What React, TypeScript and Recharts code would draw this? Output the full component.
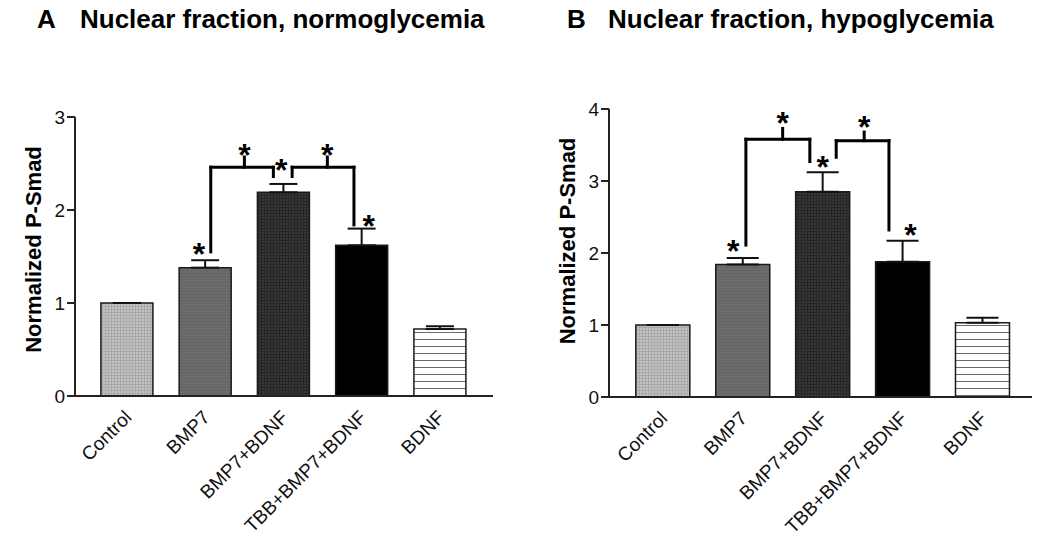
import React from "react";
import {
  BarChart,
  Bar,
  Cell,
  XAxis,
  YAxis,
  ErrorBar,
  ReferenceLine,
  ReferenceDot,
} from "recharts";

// categories
const groups = ["Control", "BMP7", "BMP7+BDNF", "TBB+BMP7+BDNF", "BDNF"];

// panel A, normoglycemia
const normoValues = [1.0, 1.38, 2.19, 1.62, 0.72];
const normoErrors = [0, 0.08, 0.09, 0.18, 0.03];
const normoTicks = [0, 1, 2, 3];

// panel B, hypoglycemia
const hypoValues = [1.0, 1.84, 2.85, 1.88, 1.03];
const hypoErrors = [0, 0.09, 0.27, 0.29, 0.07];
const hypoTicks = [0, 1, 2, 3, 4];

// significance brackets (x in group index units, y in data units)
const normoBrackets = [
  { x1: 1.07, x2: 1.87, y: 2.46, y1: 1.55, y2: 2.36, xt: 1.5, yt: 2.57 },
  { x1: 2.11, x2: 2.9, y: 2.46, y1: 2.36, y2: 1.84, xt: 2.56, yt: 2.57 },
];
const normoStars = [
  { x: 0.92, y: 1.62 },
  { x: 1.97, y: 2.52 },
  { x: 3.09, y: 1.92 },
  { x: 1.5, y: 2.68 },
  { x: 2.56, y: 2.68 },
];

const hypoBrackets = [
  { x1: 1.04, x2: 1.84, y: 3.58, y1: 2.11, y2: 3.27, xt: 1.5, yt: 3.73 },
  { x1: 2.17, x2: 2.83, y: 3.56, y1: 3.33, y2: 2.32, xt: 2.52, yt: 3.68 },
];
const hypoStars = [
  { x: 0.88, y: 2.14 },
  { x: 2.0, y: 3.31 },
  { x: 3.1, y: 2.36 },
  { x: 1.5, y: 3.92 },
  { x: 2.52, y: 3.87 },
];

const fills = ["url(#pCtrl)", "url(#pBmp)", "url(#pBoth)", "#000", "url(#pBdnf)"];
const font = "'Liberation Sans', Arial, sans-serif";

function Patterns() {
  return (
    <defs>
      <pattern id="pCtrl" width="3" height="3" patternUnits="userSpaceOnUse">
        <rect width="3" height="3" fill="#c2c2c2" />
        <path d="M0 0.5H3M0.5 0V3" stroke="#a9a9a9" strokeWidth="1" />
      </pattern>
      <pattern id="pBmp" width="3" height="3" patternUnits="userSpaceOnUse">
        <rect width="3" height="3" fill="#6c6c6c" />
        <path d="M0 0.5H3" stroke="#646464" strokeWidth="1" />
      </pattern>
      <pattern id="pBoth" width="3" height="3" patternUnits="userSpaceOnUse">
        <rect width="3" height="3" fill="#373737" />
        <path d="M0 0.5H3M0.5 0V3" stroke="#262626" strokeWidth="1" />
      </pattern>
      <pattern id="pBdnf" width="7" height="7" patternUnits="userSpaceOnUse">
        <rect width="7" height="7" fill="#fff" />
        <path d="M0 3.5H7" stroke="#6a6a6a" strokeWidth="1" />
      </pattern>
    </defs>
  );
}

const Star = (props: any) => (
  <text
    x={props.cx}
    y={props.cy}
    dy="0.6em"
    textAnchor="middle"
    fontFamily={font}
    fontWeight="bold"
    fontSize={32}
    fill="#000"
  >
    *
  </text>
);

const XTick = (p: any) => {
  const x = p.x - 4;
  const y = p.y + 1;
  return (
    <text
      x={x}
      y={y}
      transform={`rotate(-45 ${x} ${y})`}
      textAnchor="end"
      dominantBaseline="hanging"
      fontFamily={font}
      fontSize={19}
      fill="#111"
    >
      {groups[p.payload.value]}
    </text>
  );
};

function Panel(props: {
  values: number[];
  errors: number[];
  ticks: number[];
  brackets: typeof normoBrackets;
  stars: typeof normoStars;
  xDomain: [number, number];
  margin: any;
  yWidth: number;
  xHeight: number;
  labelX: number;
  labelDy: number;
  barSize: number;
  capWidth: number;
}) {
  const data = groups.map((g, i) => ({
    idx: i,
    name: g,
    value: props.values[i],
    err: [0, props.errors[i]],
  }));
  const yMax = props.ticks[props.ticks.length - 1];
  const seg = (ax: number, ay: number, bx: number, by: number, k: string) => (
    <ReferenceLine
      key={k}
      segment={[
        { x: ax, y: ay },
        { x: bx, y: by },
      ]}
      stroke="#000"
      strokeWidth={3}
      strokeLinecap="square"
    />
  );
  return (
    <BarChart width={525} height={543} data={data} margin={props.margin}>
      <Patterns />
      <XAxis
        dataKey="idx"
        type="number"
        domain={props.xDomain}
        ticks={[0, 1, 2, 3, 4]}
        interval={0}
        tickLine={false}
        tickSize={6}
        tickMargin={6}
        axisLine={{ stroke: "#222", strokeWidth: 2 }}
        height={props.xHeight}
        tick={<XTick />}
      />
      <YAxis
        domain={[0, yMax]}
        ticks={props.ticks}
        width={props.yWidth}
        tickSize={8}
        tickMargin={2}
        fontSize={19}
        axisLine={{ stroke: "#222", strokeWidth: 2 }}
        tickLine={{ stroke: "#222", strokeWidth: 2 }}
        tick={{ fill: "#111", fontSize: 19, fontFamily: font }}
        label={{
          content: (lp: any) => {
            const vb = lp.viewBox;
            const cx = props.labelX;
            const cy = vb.y + vb.height / 2 + props.labelDy;
            return (
              <text
                x={cx}
                y={cy}
                transform={`rotate(-90 ${cx} ${cy})`}
                textAnchor="middle"
                dominantBaseline="central"
                fontFamily={font}
                fontWeight="bold"
                fontSize={22}
                fill="#000"
              >
                Normalized P-Smad
              </text>
            );
          },
        }}
      />
      <Bar
        dataKey="value"
        barSize={props.barSize}
        stroke="#1a1a1a"
        strokeWidth={1.5}
        isAnimationActive={false}
      >
        {data.map((d, i) => (
          <Cell key={d.name} fill={fills[i]} />
        ))}
        <ErrorBar
          dataKey="err"
          direction="y"
          width={props.capWidth}
          stroke="#111"
          strokeWidth={2}
        />
      </Bar>
      {props.brackets.flatMap((b, i) => [
        seg(b.x1, b.y1, b.x1, b.y, `l${i}`),
        seg(b.x1, b.y, b.x2, b.y, `h${i}`),
        seg(b.x2, b.y, b.x2, b.y2, `r${i}`),
        seg(b.xt, b.y, b.xt, b.yt, `t${i}`),
      ])}
      {props.stars.map((s, i) => (
        <ReferenceDot key={`s${i}`} x={s.x} y={s.y} shape={Star} />
      ))}
    </BarChart>
  );
}

const titleStyle: React.CSSProperties = {
  position: "absolute",
  top: 6,
  fontFamily: font,
  fontWeight: "bold",
  fontSize: 26,
  lineHeight: 1,
  whiteSpace: "nowrap",
  color: "#000",
};

export default function App() {
  return (
    <div
      style={{
        position: "absolute",
        left: 0,
        top: 0,
        width: 1050,
        height: 543,
        background: "#fff",
      }}
    >
      <div style={{ ...titleStyle, left: 37 }}>A</div>
      <div style={{ ...titleStyle, left: 80 }}>Nuclear fraction, normoglycemia</div>
      <div style={{ ...titleStyle, left: 567 }}>B</div>
      <div style={{ ...titleStyle, left: 608 }}>Nuclear fraction, hypoglycemia</div>
      <div style={{ position: "absolute", left: 0, top: 0 }}>
        <Panel
          values={normoValues}
          errors={normoErrors}
          ticks={normoTicks}
          brackets={normoBrackets}
          stars={normoStars}
          xDomain={[-0.665, 4.677]}
          margin={{ top: 117, right: 32, left: 0, bottom: 0 }}
          yWidth={75}
          xHeight={147}
          labelX={33}
          labelDy={-7}
          barSize={52}
          capWidth={14}
        />
      </div>
      <div style={{ position: "absolute", left: 525, top: 0 }}>
        <Panel
          values={hypoValues}
          errors={hypoErrors}
          ticks={hypoTicks}
          brackets={hypoBrackets}
          stars={hypoStars}
          xDomain={[-0.673, 4.62]}
          margin={{ top: 109, right: 18, left: 0, bottom: 0 }}
          yWidth={84}
          xHeight={146}
          labelX={42}
          labelDy={-12}
          barSize={54}
          capWidth={16}
        />
      </div>
    </div>
  );
}
